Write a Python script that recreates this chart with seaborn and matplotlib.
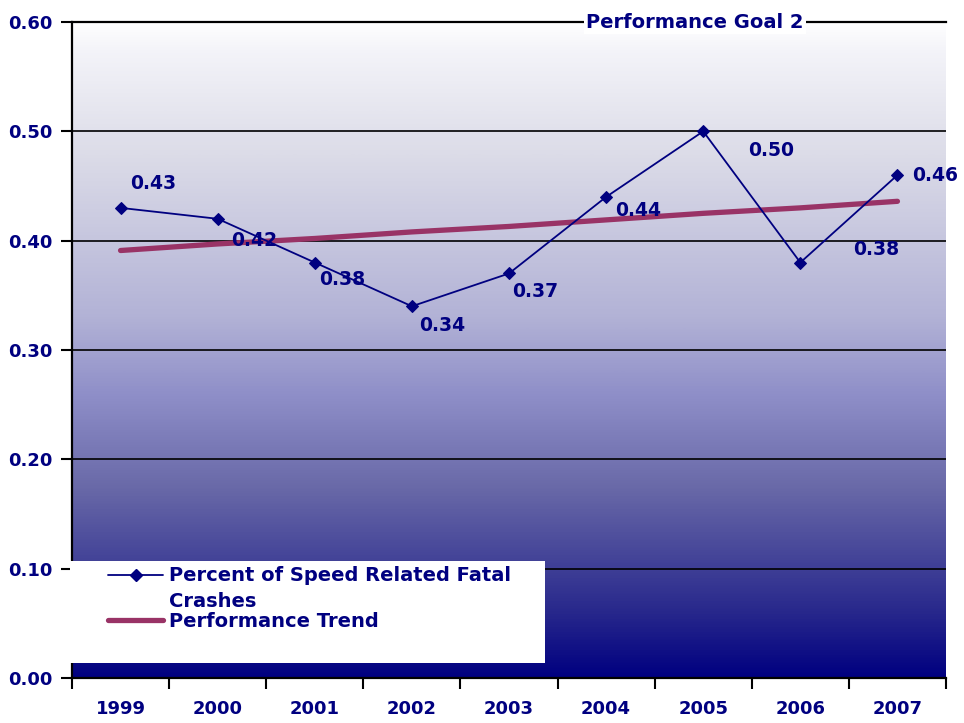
import numpy as np
import pandas as pd
import matplotlib
matplotlib.use("Agg")
import matplotlib.pyplot as plt
from matplotlib.colors import LinearSegmentedColormap
from matplotlib.lines import Line2D
from matplotlib.patches import Rectangle
from matplotlib.legend_handler import HandlerLine2D
from matplotlib.transforms import Affine2D
import seaborn as sns

# ---- data ----
years = ["1999", "2000", "2001", "2002", "2003", "2004", "2005", "2006", "2007"]
speed_pct = [0.43, 0.42, 0.38, 0.34, 0.37, 0.44, 0.50, 0.38, 0.46]
trend = [0.391, 0.397, 0.402, 0.408, 0.413, 0.419, 0.425, 0.430, 0.436]
value_labels = ["0.43", "0.42", "0.38", "0.34", "0.37", "0.44", "0.50", "0.38", "0.46"]
y_ticks = [0.0, 0.1, 0.2, 0.3, 0.4, 0.5, 0.6]
title_text = "Performance Goal 2"
series_name = "Percent of Speed Related Fatal\nCrashes"
trend_name = "Performance Trend"

# label offsets in pixels (style)
label_offsets = [(33, 24), (36, -22), (27, -17), (30, -19), (26, -18),
                 (32, -14), (68, -19), (76, 13), (38, 0)]

NAVY = "#000080"
TREND = "#993366"

sns.set_theme(style="white")
plt.rcParams["font.family"] = ["DejaVu Sans"]
plt.rcParams["font.weight"] = "bold"

fig = plt.figure(figsize=(9.64, 7.23), dpi=100)
ax = fig.add_axes([72 / 964, 1 - 678 / 723, 874 / 964, 656 / 723])

# gradient background
stops = [(0.0, (0 / 255, 0 / 255, 128 / 255)),
         (0.10, (40 / 255, 40 / 255, 140 / 255)),
         (0.29, (105 / 255, 105 / 255, 168 / 255)),
         (0.43, (142 / 255, 142 / 255, 200 / 255)),
         (0.55, (178 / 255, 178 / 255, 214 / 255)),
         (0.80, (220 / 255, 220 / 255, 232 / 255)),
         (0.96, (244 / 255, 244 / 255, 249 / 255)),
         (1.0, (1.0, 1.0, 1.0))]
cmap = LinearSegmentedColormap.from_list("bg", stops)
grad = np.linspace(0, 1, 512).reshape(-1, 1)
ax.imshow(grad, cmap=cmap, aspect="auto", origin="lower",
          extent=[0, 1, 0, 1], transform=ax.transAxes, zorder=0)

df = pd.DataFrame({"year": years, "pct": speed_pct, "trend": trend})

sns.lineplot(data=df, x="year", y="trend", ax=ax, color=TREND, lw=3.8,
             zorder=3, sort=False)
sns.lineplot(data=df, x="year", y="pct", ax=ax, color=NAVY, lw=1.3,
             marker="D", markersize=6.5, markeredgecolor=NAVY, zorder=4, sort=False)

for i, (v, lab, off) in enumerate(zip(speed_pct, value_labels, label_offsets)):
    ax.annotate(lab, xy=(i, v), xytext=off, textcoords="offset pixels",
                ha="center", va="center", color=NAVY, fontsize=13.5,
                fontweight="bold", zorder=6)

ax.set_xlim(-0.5, len(years) - 0.5)
ax.set_ylim(0, 0.6)

# gridlines
for yv in y_ticks[1:-1]:
    ax.axhline(yv, color="black", lw=1.2, zorder=2)

ax.set_yticks(y_ticks)
ax.set_yticklabels([f"{t:.2f}" for t in y_ticks], color=NAVY,
                   fontsize=13, fontweight="bold")
ax.tick_params(axis="y", which="major", direction="out", length=8, width=1.5,
               color="black", left=True, pad=6)

ax.set_xticks(np.arange(-0.5, len(years)), labels=[""] * (len(years) + 1))
ax.set_xticks(np.arange(len(years)), labels=years, minor=True)
ax.tick_params(axis="x", which="major", direction="out", length=8, width=1.5,
               color="black", bottom=True)
ax.tick_params(axis="x", which="minor", length=0, pad=16, labelsize=13,
               labelcolor=NAVY)
for t in ax.get_xticklabels(minor=True):
    t.set_fontweight("bold")
ax.set_xlabel("")
ax.set_ylabel("")

for s in ["left", "bottom", "top"]:
    ax.spines[s].set_visible(True)
    ax.spines[s].set_color("black")
    ax.spines[s].set_linewidth(1.6)
ax.spines["right"].set_visible(False)

# title on the top line
ax.text((695 - 72) / 874, 1.0, title_text, transform=ax.transAxes,
        ha="center", va="center", color=NAVY, fontsize=14, fontweight="bold",
        bbox=dict(facecolor="white", edgecolor="none", pad=2), zorder=10,
        clip_on=False)


class TopLineHandler(HandlerLine2D):
    """Place the legend handle beside the first line of a wrapped label."""
    def __init__(self, shift=0, **kw):
        super().__init__(**kw)
        self.shift = shift

    def create_artists(self, legend, orig_handle, xdescent, ydescent, width,
                       height, fontsize, trans):
        arts = super().create_artists(legend, orig_handle, xdescent, ydescent,
                                      width, height, fontsize, trans)
        t2 = trans + Affine2D().translate(0, self.shift)
        for a in arts:
            a.set_transform(t2)
        return arts


# legend background
ax.add_patch(Rectangle(((70 - 72) / 874, (678 - 663) / 656), (545 - 70) / 874,
                       (663 - 561) / 656, transform=ax.transAxes,
                       facecolor="white", edgecolor="none", zorder=7,
                       clip_on=False))
h_series = Line2D([], [], color=NAVY, lw=1.3, marker="D", markersize=6.5)
h_trend = Line2D([], [], color=TREND, lw=3.8)
leg = ax.legend([h_series, h_trend], [series_name, trend_name], loc="upper left",
                bbox_to_anchor=((108 - 72) / 874 - 0.005, (678 - 561) / 656),
                frameon=False, fontsize=14, handlelength=2.8,
                handletextpad=0.3, labelspacing=0.05, borderpad=0.25,
                borderaxespad=0,
                handler_map={h_series: TopLineHandler(shift=13.5)})
leg.set_zorder(8)
for t in leg.get_texts():
    t.set_color(NAVY)
    t.set_fontweight("bold")
    t.set_linespacing(1.45)

fig.savefig("out.png", dpi=100)
